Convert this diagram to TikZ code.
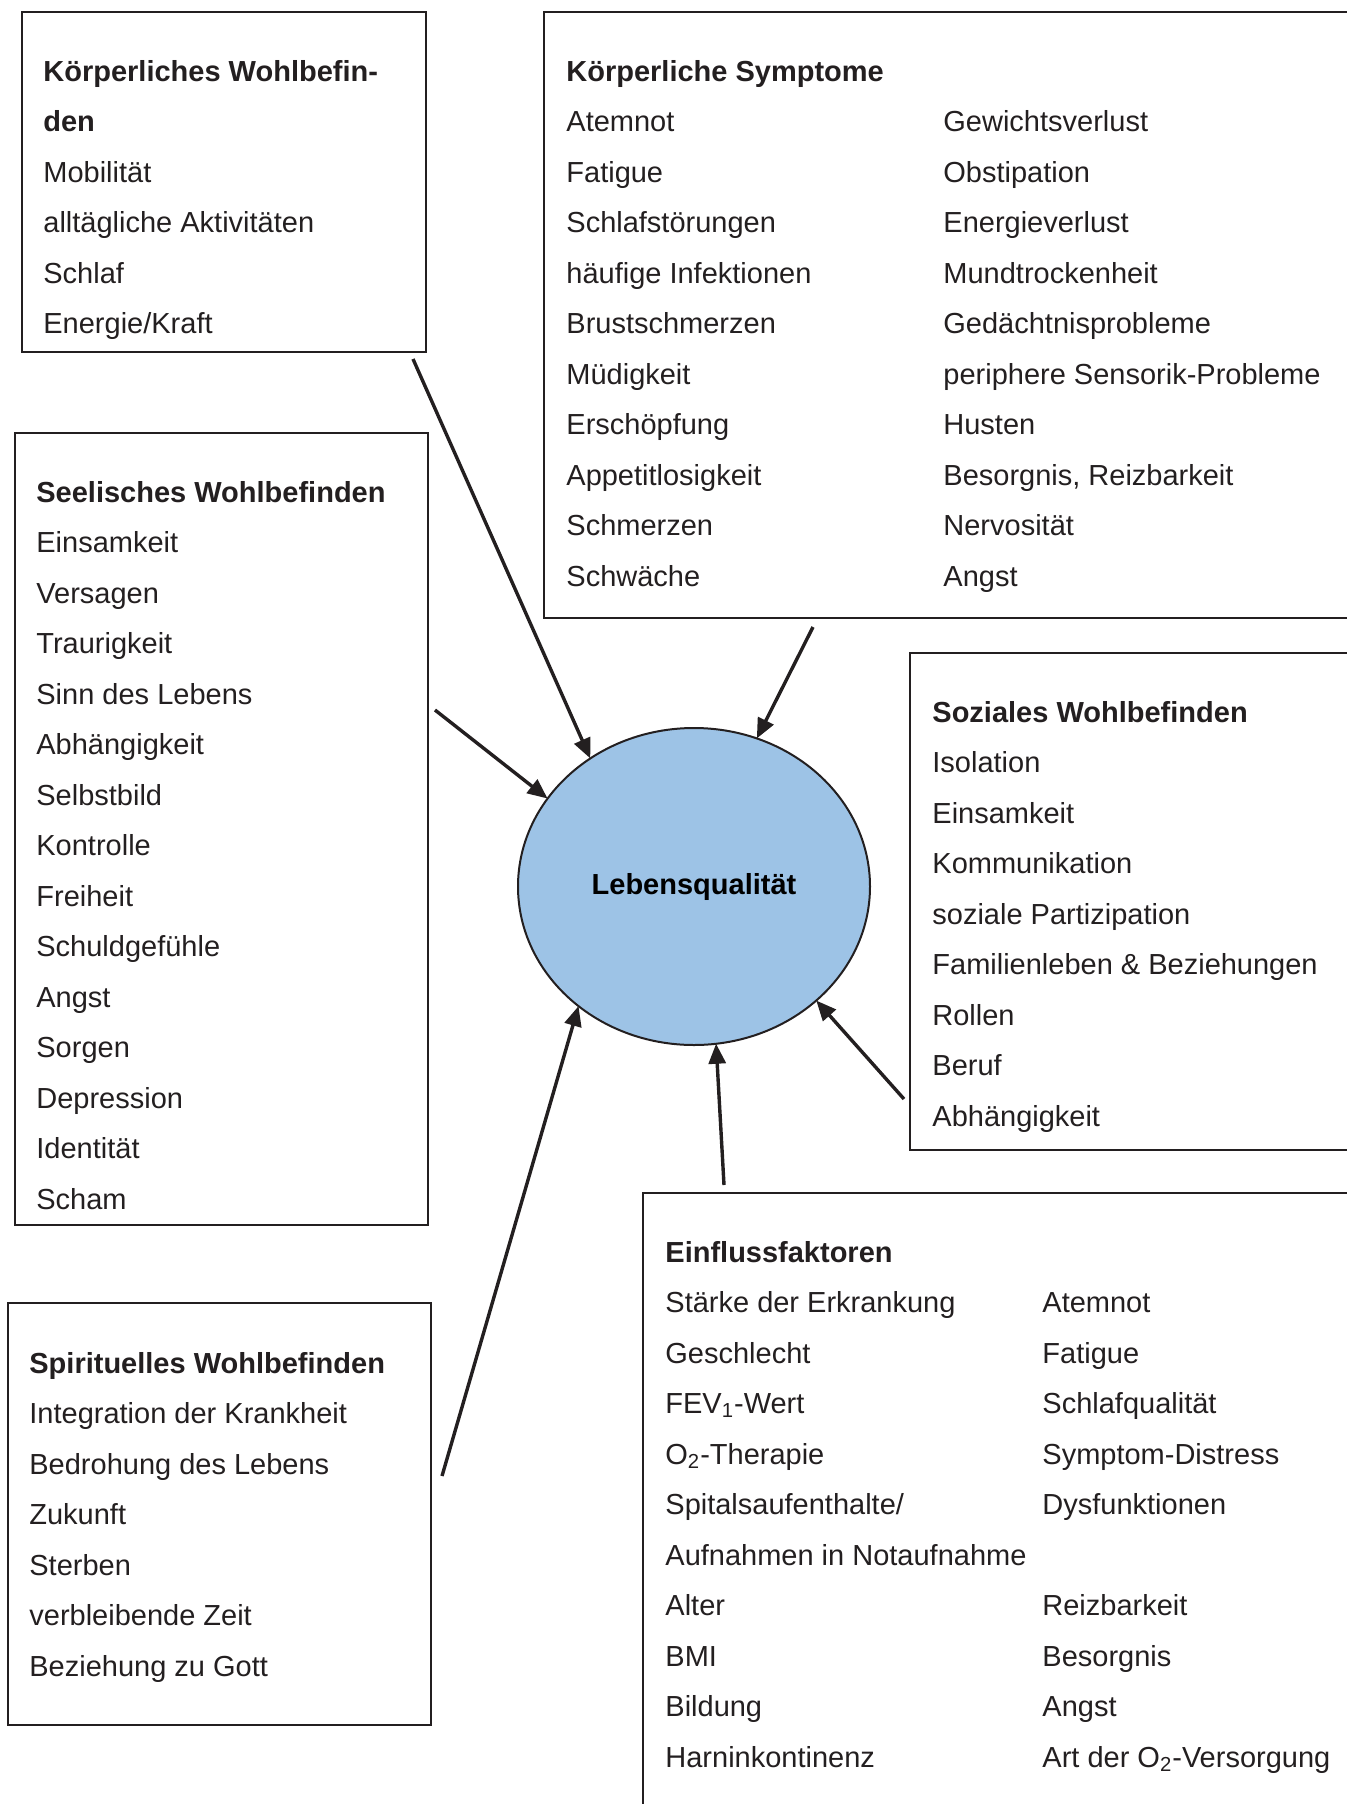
\documentclass[tikz,border=0pt]{standalone}
\usepackage{fontspec}
\setmainfont{Liberation Sans}
\usepackage{tikz}
\usepackage{xcolor}
\usetikzlibrary{shapes.geometric, arrows.meta, fit}
\definecolor{ink}{RGB}{35,31,32}
\definecolor{lqblue}{RGB}{157,195,230}

\begin{document}
\begin{tikzpicture}[
  x=0.5pt, y=-0.5pt,
  style={font=\fontsize{14.5}{25}\selectfont},
  box/.style={draw=ink, line width=1pt, inner sep=0pt},
  item/.style={anchor=base west, inner sep=0pt, text=ink},
  head/.style={item, font=\fontsize{14.5}{25}\selectfont\bfseries},
  arr/.style={draw=ink, line width=1.7pt, -{Triangle[length=10pt,width=8.5pt]}},
]
  \useasboundingbox (0,0) rectangle (1347,1804);
  \clip (0,0) rectangle (1347,1804);

  % Centre: quality of life
  \node[ellipse, draw=ink, line width=1pt, fill=lqblue, inner sep=0pt, outer sep=0pt,
        minimum width=176pt, minimum height=158.5pt] (lq) at (694,886.5)
        {\bfseries Lebensqualität};

  % Box top left
  \node[box, fit={(22,12) (426,352)}] (kw) {};
  \node[head] (kwh1) at (43,81) {Körperliches Wohlbefin-};
  \node[head] (kwh2) at (43,131.5) {den};
  \foreach \t [count=\i] in {Mobilität, alltägliche Aktivitäten, Schlaf, Energie/Kraft}
    \node[item] (kw\i) at (43,{131.5+\i*50.5}) {\t};

  % Box top right, two columns
  \node[box, fit={(544,12) (1360,618)}] (ks) {};
  \node[head] (ksh) at (566,81) {Körperliche Symptome};
  \foreach \t [count=\i] in {Atemnot, Fatigue, Schlafstörungen, häufige Infektionen,
      Brustschmerzen, Müdigkeit, Erschöpfung, Appetitlosigkeit, Schmerzen, Schwäche}
    \node[item] (ksa\i) at (566,{81+\i*50.5}) {\t};
  \foreach \t [count=\i] in {Gewichtsverlust, Obstipation, Energieverlust, Mundtrockenheit,
      Gedächtnisprobleme, periphere Sensorik-Probleme, Husten, {Besorgnis, Reizbarkeit},
      Nervosität, Angst}
    \node[item] (ksb\i) at (943,{81+\i*50.5}) {\t};

  % Box left middle
  \node[box, fit={(15,433) (428,1225)}] (sw) {};
  \node[head] (swh) at (36,502) {Seelisches Wohlbefinden};
  \foreach \t [count=\i] in {Einsamkeit, Versagen, Traurigkeit, Sinn des Lebens,
      Abhängigkeit, Selbstbild, Kontrolle, Freiheit, Schuldgefühle, Angst, Sorgen,
      Depression, Identität, Scham}
    \node[item] (sw\i) at (36,{502+\i*50.5}) {\t};

  % Box right middle
  \node[box, fit={(910,653) (1360,1150)}] (so) {};
  \node[head] (soh) at (932,722) {Soziales Wohlbefinden};
  \foreach \t [count=\i] in {Isolation, Einsamkeit, Kommunikation, soziale Partizipation,
      Familienleben \& Beziehungen, Rollen, Beruf, Abhängigkeit}
    \node[item] (so\i) at (932,{722+\i*50.5}) {\t};

  % Box bottom right, two columns
  \node[box, fit={(643,1193) (1360,1820)}] (ef) {};
  \node[head] (efh) at (665,1262) {Einflussfaktoren};
  \foreach \t [count=\i] in {Stärke der Erkrankung, Geschlecht, FEV\textsubscript{1}-Wert,
      O\textsubscript{2}-Therapie, Spitalsaufenthalte/, Aufnahmen in Notaufnahme, Alter,
      BMI, Bildung, Harninkontinenz}
    \node[item] (efa\i) at (665,{1262+\i*50.5}) {\t};
  \foreach \t/\r in {Atemnot/1, Fatigue/2, Schlafqualität/3, Symptom-Distress/4,
      Dysfunktionen/5, Reizbarkeit/7, Besorgnis/8, Angst/9,
      Art der O\textsubscript{2}-Versorgung/10}
    \node[item] (efb\r) at (1042,{1262+\r*50.5}) {\t};

  % Box bottom left
  \node[box, fit={(8,1303) (431,1725)}] (spw) {};
  \node[head] (spwh) at (29,1373) {Spirituelles Wohlbefinden};
  \foreach \t [count=\i] in {Integration der Krankheit, Bedrohung des Lebens, Zukunft,
      Sterben, verbleibende Zeit, Beziehung zu Gott}
    \node[item] (spw\i) at (29,{1373+\i*50.5}) {\t};

  % Arrows into the centre
  \coordinate (s1) at (413,359);
  \coordinate (s2) at (813,627);
  \coordinate (s3) at (435,710);
  \coordinate (s4) at (904,1099);
  \coordinate (s5) at (724,1185);
  \coordinate (s6) at (442,1476);
  \draw[arr] (s1) -- (lq.129.4);
  \draw[arr] (s2) -- (lq.67.8);
  \draw[arr] (s3) -- (lq.149.1);
  \draw[arr] (s4) -- (lq.-43.1);
  \draw[arr] (s5) -- (lq.-82.5);
  \draw[arr] (s6) -- (lq.-134.0);
\end{tikzpicture}
\end{document}
